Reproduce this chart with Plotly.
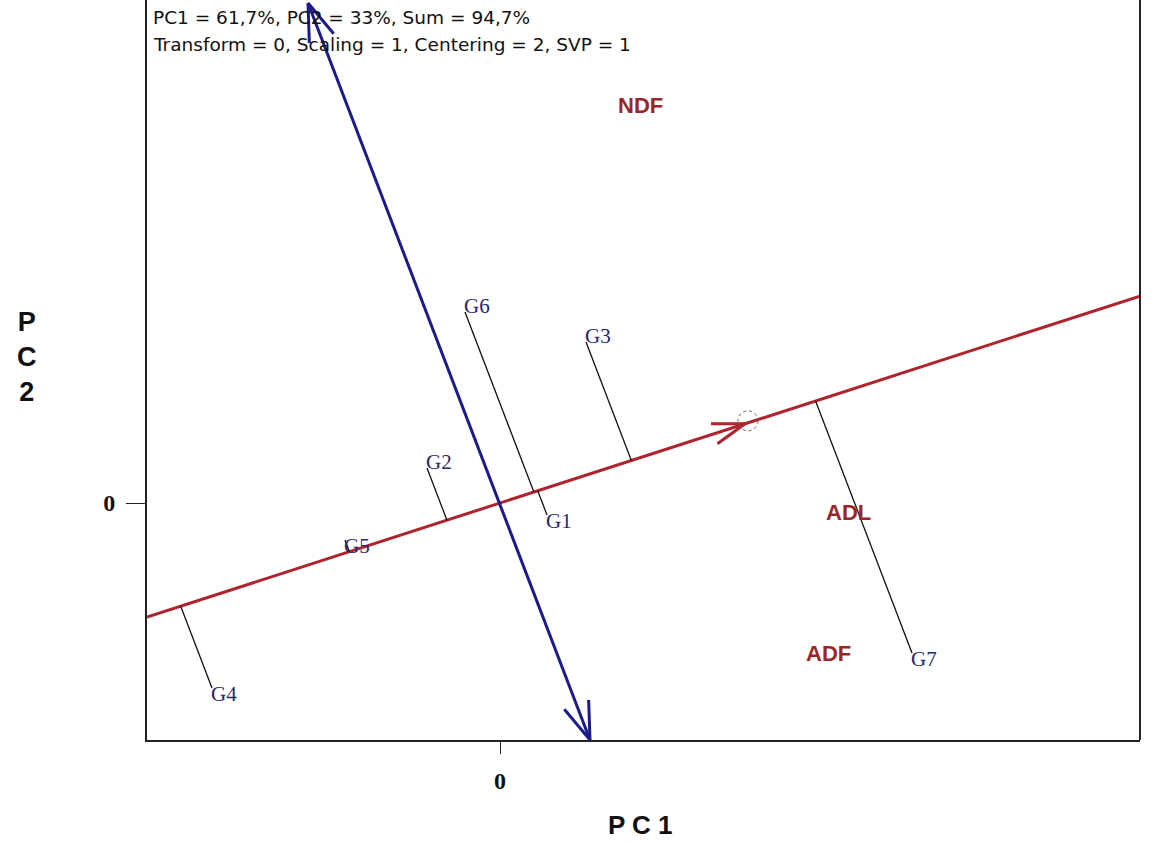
import numpy as np
import plotly.graph_objects as go

# ---------------- data (biplot coordinates) ----------------
genotypes = ["G1", "G2", "G3", "G4", "G5", "G6", "G7"]
geno_pc1 = [47, -73, 86, -288, -155, -35, 412]
geno_pc2 = [-12, 35, 161, -185, -37, 191, -150]
label_side = ["below", "above", "above", "below", "below", "above", "below"]

traits = ["NDF", "ADL", "ADF"]
trait_pc1 = [140, 348, 328]
trait_pc2 = [398, -9, -150]

# average-environment (ATC abscissa) point
ae_pc1, ae_pc2 = 245, 79.2
# ATC ordinate end points
ord_pc1 = [-192, 90]
ord_pc2 = [500, -237]

x_range = [-353, 640]
y_range = [-237, 503]

header = ["PC1 = 61,7%, PC2 = 33%, Sum = 94,7%",
          "Transform = 0, Scaling = 1, Centering = 2, SVP = 1"]

RED = "#b0232c"
BLUE = "#1b1b8c"
GCOL = "#262672"
TCOL = "#9c2626"

fig = go.Figure()

# ATC abscissa (red line through origin)
slope = ae_pc2 / ae_pc1
ax_x = np.array(x_range, dtype=float)
ax_y = slope * ax_x
fig.add_trace(go.Scatter(x=ax_x, y=ax_y, mode="lines",
                         line=dict(color=RED, width=3), hoverinfo="skip"))


def arrow_head(tip, direction, length, ang_deg):
    d = np.array(direction, dtype=float)
    d = d / np.linalg.norm(d)
    back = -d
    xs, ys = [], []
    for s in (1, -1):
        a = np.radians(ang_deg) * s
        r = np.array([back[0] * np.cos(a) - back[1] * np.sin(a),
                      back[0] * np.sin(a) + back[1] * np.cos(a)])
        p = np.array(tip) + r * length
        xs += [tip[0], p[0], None]
        ys += [tip[1], p[1], None]
    return xs, ys


hx, hy = arrow_head((ae_pc1, ae_pc2), (ae_pc1, ae_pc2), 34, 18)
fig.add_trace(go.Scatter(x=hx, y=hy, mode="lines",
                         line=dict(color=RED, width=3), hoverinfo="skip"))

# ATC ordinate (blue double arrow)
fig.add_trace(go.Scatter(x=ord_pc1, y=ord_pc2, mode="lines",
                         line=dict(color=BLUE, width=3), hoverinfo="skip"))
dvec = (ord_pc1[0] - ord_pc1[1], ord_pc2[0] - ord_pc2[1])
bx1, by1 = arrow_head((ord_pc1[0], ord_pc2[0]), dvec, 40, 19)
bx2, by2 = arrow_head((ord_pc1[1], ord_pc2[1]), (-dvec[0], -dvec[1]), 40, 19)
fig.add_trace(go.Scatter(x=bx1 + bx2, y=by1 + by2, mode="lines",
                         line=dict(color=BLUE, width=3), hoverinfo="skip"))

# projection lines (parallel to ordinate) from genotypes to abscissa
odx, ody = dvec
px, py = [], []
for gx, gy in zip(geno_pc1, geno_pc2):
    s = (slope * gx - gy) / (ody - slope * odx)
    fx, fy = gx + s * odx, gy + s * ody
    px += [gx, fx, None]
    py += [gy, fy, None]
fig.add_trace(go.Scatter(x=px, y=py, mode="lines",
                         line=dict(color="#111111", width=1.3), hoverinfo="skip"))

# average environment small dashed circle
fig.add_shape(type="circle", xref="x", yref="y",
              x0=ae_pc1 + 3 - 10, x1=ae_pc1 + 3 + 10,
              y0=ae_pc2 + 3 - 10, y1=ae_pc2 + 3 + 10,
              line=dict(color="#7a5a5a", width=1, dash="dot"))

# genotype labels
for name, gx, gy, side in zip(genotypes, geno_pc1, geno_pc2, label_side):
    fig.add_annotation(x=gx, y=gy, text=name, showarrow=False,
                       xanchor="left", yanchor="middle", xshift=-3,
                       yshift=6 if side == "above" else -6,
                       font=dict(family="Liberation Serif", size=21, color=GCOL))

# trait labels
for name, tx, ty in zip(traits, trait_pc1, trait_pc2):
    fig.add_annotation(x=tx, y=ty, text=name, showarrow=False,
                       xanchor="center", yanchor="middle",
                       font=dict(family="Liberation Sans", size=22,
                                 color=TCOL, weight="bold"))

# header text (two lines)
for i, line in enumerate(header):
    fig.add_annotation(xref="paper", yref="paper", x=0.004,
                       y=1 - (18 + 26 * i) / 740,
                       xanchor="left", yanchor="middle",
                       text=line, showarrow=False,
                       font=dict(family="DejaVu Sans", size=18.5, color="#111111"))

# axis titles
fig.add_annotation(xref="paper", yref="paper", x=0.497, y=-0.1145,
                   xanchor="center", yanchor="middle", text="P C 1",
                   showarrow=False,
                   font=dict(family="Liberation Sans", size=26, color="#111111",
                             weight="bold"))
fig.add_annotation(xref="paper", yref="paper", x=-0.121, y=0.518,
                   xanchor="center", yanchor="middle", text="P<br>C<br>2",
                   showarrow=False,
                   font=dict(family="Liberation Sans", size=27, color="#111111",
                             weight="bold"))

# right border
fig.add_shape(type="line", xref="paper", yref="paper", x0=1, x1=1, y0=0, y1=1,
              line=dict(color="#222222", width=2))

fig.update_layout(
    width=1152, height=846,
    margin=dict(l=147, r=12, t=0, b=106),
    paper_bgcolor="white", plot_bgcolor="white",
    showlegend=False,
    xaxis=dict(range=x_range, showgrid=False, zeroline=False,
               showline=True, linecolor="#222222", linewidth=2,
               tickvals=[0], ticktext=["0"], ticks="outside", ticklen=12,
               tickcolor="#222222", tickwidth=1, ticklabelstandoff=6,
               tickfont=dict(family="Liberation Serif", size=24,
                             color="#111111", weight="bold")),
    yaxis=dict(range=y_range, showgrid=False, zeroline=False,
               showline=True, linecolor="#222222", linewidth=2,
               tickvals=[0], ticktext=["0"], ticks="outside", ticklen=19,
               tickcolor="#222222", tickwidth=1, ticklabelstandoff=6,
               tickfont=dict(family="Liberation Serif", size=24,
                             color="#111111", weight="bold")),
)

fig.write_html("out.html")
